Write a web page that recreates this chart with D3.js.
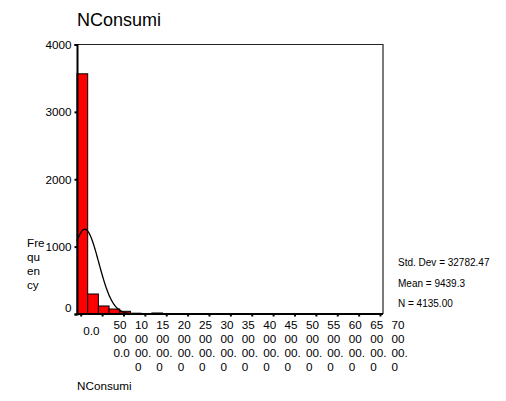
<!DOCTYPE html>
<html>
<head>
<meta charset="utf-8">
<script src="https://cdn.jsdelivr.net/npm/d3@7/dist/d3.min.js"></script>
<style>
  html, body { margin: 0; padding: 0; background: #fff; }
  svg { display: block; }
  text { font-family: "Liberation Sans", Arial, sans-serif; fill: #000; }
</style>
</head>
<body>
<svg id="chart" width="506" height="401"></svg>
<script>
// Histogram of NConsumi: bin counts (bin width 25000, first bin starting at binStart)
const binStart = -8700;
const binWidth = 25000;
const binCounts = [3565, 297, 119, 74, 40, 12, 6, 15, 3, 2, 1, 1];

// Summary statistics shown beside the plot
const stdDev = 32782.47;
const mean = 9439.3;
const nCases = 4135;
const statLines = ["Std. Dev = 32782.47", "Mean = 9439.3", "N = 4135.00"];

// Axis ticks and labels
const xTickValues = [0, 50000, 100000, 150000, 200000, 250000, 300000, 350000,
                     400000, 450000, 500000, 550000, 600000, 650000, 700000];
const xTickLabels = ["0.0", "50000.0", "100000.0", "150000.0", "200000.0", "250000.0",
                     "300000.0", "350000.0", "400000.0", "450000.0", "500000.0",
                     "550000.0", "600000.0", "650000.0", "700000.0"];
const yTickValues = [0, 1000, 2000, 3000, 4000];
const yTickLabels = ["0", "1000", "2000", "3000", "4000"];

const svg = d3.select("#chart");
const plot = { left: 77, right: 383, top: 44.5, bottom: 314 };
const labelSize = 11.7;

const x = d3.scaleLinear().domain([binStart, 707000]).range([plot.left, plot.right]);
const y = d3.scaleLinear().domain([0, 4000]).range([plot.bottom, plot.top]);

const bins = binCounts.map((c, i) => ({ x0: binStart + i * binWidth, x1: binStart + (i + 1) * binWidth, count: c }));

// Title
svg.append("text").attr("x", 77).attr("y", 26).attr("font-size", 18).text("NConsumi");

// Bars
svg.append("g").selectAll("rect").data(bins.filter(b => b.count > 0)).join("rect")
  .attr("x", d => x(d.x0))
  .attr("y", d => y(d.count))
  .attr("width", d => x(d.x1) - x(d.x0))
  .attr("height", d => y(0) - y(d.count))
  .attr("fill", "#ff0000")
  .attr("stroke", "#000")
  .attr("stroke-width", 1);

// Normal curve scaled to the histogram
const normal = v => nCases * binWidth / (stdDev * Math.sqrt(2 * Math.PI)) *
  Math.exp(-0.5 * Math.pow((v - mean) / stdDev, 2));
const curvePts = d3.range(binStart, 707000, 500).map(v => [v, normal(v)]);
svg.append("path")
  .datum(curvePts)
  .attr("fill", "none")
  .attr("stroke", "#000")
  .attr("stroke-width", 1.3)
  .attr("d", d3.line().x(d => x(d[0])).y(d => y(d[1])));

// Frame: top and right edges
svg.append("path")
  .attr("d", `M${plot.left},${plot.top}H${plot.right}V${plot.bottom}`)
  .attr("fill", "none").attr("stroke", "#222").attr("stroke-width", 1.2);

// Y axis
const yAxis = svg.append("g").attr("transform", `translate(${plot.left},0)`)
  .call(d3.axisLeft(y).tickValues(yTickValues).tickSize(2.5).tickPadding(3)
    .tickFormat((d, i) => yTickLabels[i]));
yAxis.select(".domain").attr("stroke", "#000").attr("stroke-width", 2);
yAxis.selectAll(".tick line").attr("stroke", "#000").attr("stroke-width", 2);
yAxis.selectAll(".tick text").attr("font-size", labelSize)
  .attr("font-family", "Liberation Sans, Arial, sans-serif")
  .attr("dy", (d) => d === 0 ? "-0.25em" : "0.32em");

// X axis line and ticks
const xAxis = svg.append("g").attr("transform", `translate(0,${plot.bottom})`)
  .call(d3.axisBottom(x).tickValues(xTickValues).tickSize(2.5).tickFormat(""));
xAxis.select(".domain").attr("stroke", "#000").attr("stroke-width", 2)
  .attr("d", `M${plot.left},0H${plot.right}`);
xAxis.selectAll(".tick line").attr("stroke", "#000").attr("stroke-width", 2);

// Wrap tick labels into narrow columns, character by character
const ctx = document.createElement("canvas").getContext("2d");
ctx.font = `${labelSize}px 'Liberation Sans'`;
const maxW = ctx.measureText("0.0").width + 0.5;
function wrap(str) {
  const lines = [];
  let cur = "";
  for (const ch of str) {
    if (cur && ctx.measureText(cur + ch).width > maxW) { lines.push(cur); cur = ch; }
    else cur += ch;
  }
  if (cur) lines.push(cur);
  return lines;
}

const lineH = 14;
const xLabels = svg.append("g");
xTickValues.forEach((v, i) => {
  const lines = wrap(xTickLabels[i]);
  const single = lines.length === 1;
  const lx = x(v) + (single ? 2.6 : 11.5);
  const t = xLabels.append("text")
    .attr("font-size", labelSize)
    .attr("x", lx)
    .attr("y", plot.bottom + 15 + (single ? 6 : 0));
  lines.forEach((ln, j) => {
    t.append("tspan").attr("x", lx).attr("dy", j === 0 ? 0 : lineH).text(ln);
  });
});

// Y axis title, wrapped the same way
const yTitle = svg.append("text").attr("font-size", labelSize).attr("x", 27).attr("y", 247);
["Fre", "qu", "en", "cy"].forEach((ln, j) => {
  yTitle.append("tspan").attr("x", 27).attr("dy", j === 0 ? 0 : lineH).text(ln);
});

// X axis title
svg.append("text").attr("font-size", labelSize).attr("x", 77).attr("y", 390).text("NConsumi");

// Statistics
statLines.forEach((s, i) => {
  svg.append("text").attr("font-size", 10).attr("x", 398).attr("y", 266 + i * 20.5).text(s);
});
</script>
</body>
</html>
